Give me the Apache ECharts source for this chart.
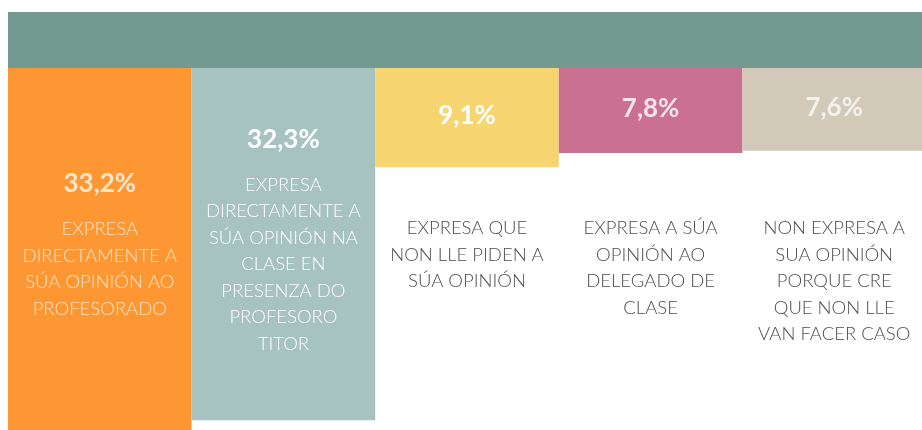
<!DOCTYPE html>
<html>
<head>
<meta charset="utf-8">
<script src="https://cdn.jsdelivr.net/npm/echarts@6/dist/echarts.min.js"></script>
<style>
  html, body { margin: 0; padding: 0; background: #fff; }
  #chart { width: 922px; height: 430px; }
</style>
</head>
<body>
<div id="chart"></div>
<script>
  const categories = [
    'EXPRESA\nDIRECTAMENTE A\nSÚA OPINIÓN AO\nPROFESORADO',
    'EXPRESA\nDIRECTAMENTE A\nSÚA OPINIÓN NA\nCLASE EN\nPRESENZA DO\nPROFESORO\nTITOR',
    'EXPRESA QUE\nNON LLE PIDEN A\nSÚA OPINIÓN',
    'EXPRESA A SÚA\nOPINIÓN AO\nDELEGADO DE\nCLASE',
    'NON EXPRESA A\nSUA OPINIÓN\nPORQUE CRE\nQUE NON LLE\nVAN FACER CASO'
  ];
  const values = [33.2, 32.3, 9.1, 7.8, 7.6];

  const barColors = ['#fd9734', '#a6c3bf', '#f6d571', '#ca7091', '#d3c9b9'];
  const valueColors = ['#fde6cc', '#ffffff', '#ffffff', '#f3e4ea', '#f4f1ec'];
  const textColors = ['#fde3c4', '#ffffff', '#4d4d4d', '#4d4d4d', '#4d4d4d'];

  const fmt = v => v.toFixed(1).replace('.', ',') + '%';
  const isInside = v => v > 20;

  const chart = echarts.init(document.getElementById('chart'));

  const data = values.map((v, i) => {
    const lines = isInside(v)
      ? '{v|' + fmt(v) + '}\n' + categories[i].split('\n').map(l => '{c|' + l + '}').join('\n')
      : '{v|' + fmt(v) + '}';
    return {
      value: v,
      itemStyle: { color: barColors[i] },
      label: {
        show: true,
        position: 'inside',
        offset: isInside(v) ? [0, -12] : [0, -2],
        formatter: lines,
        rich: {
          v: {
            color: valueColors[i],
            fontFamily: 'Lato',
            fontWeight: 'bold',
            fontSize: 26,
            lineHeight: isInside(v) ? 64 : 30
          },
          c: {
            color: textColors[i],
            fontFamily: 'Lato',
            fontWeight: 300,
            fontSize: 18.5,
            lineHeight: 26.5
          }
        }
      }
    };
  });

  const option = {
    animation: false,
    graphic: [{
      type: 'rect',
      left: 8, top: 12, z: -1,
      shape: { width: 914, height: 56 },
      style: { fill: '#729a91' }
    }],
    grid: { left: 8, right: -4, top: 68, bottom: 0, outerBoundsMode: 'none', containLabel: false },
    xAxis: {
      type: 'category',
      data: categories,
      position: 'top',
      axisLine: { show: false, onZero: false },
      axisTick: { show: false },
      axisLabel: {
        interval: 0,
        margin: -147,
        color: '#4d4d4d',
        fontFamily: 'Lato',
        fontWeight: 300,
        fontSize: 18.5,
        lineHeight: 26.5,
        verticalAlign: 'top',
        formatter: (val, idx) => isInside(values[idx]) ? '' : val
      }
    },
    yAxis: {
      type: 'value',
      inverse: true,
      min: 0,
      max: 33.2,
      show: false,
      splitLine: { show: false }
    },
    series: [{
      type: 'bar',
      barWidth: '100%',
      barCategoryGap: 0,
      data: data
    }]
  };

  chart.setOption(option);
</script>
</body>
</html>
